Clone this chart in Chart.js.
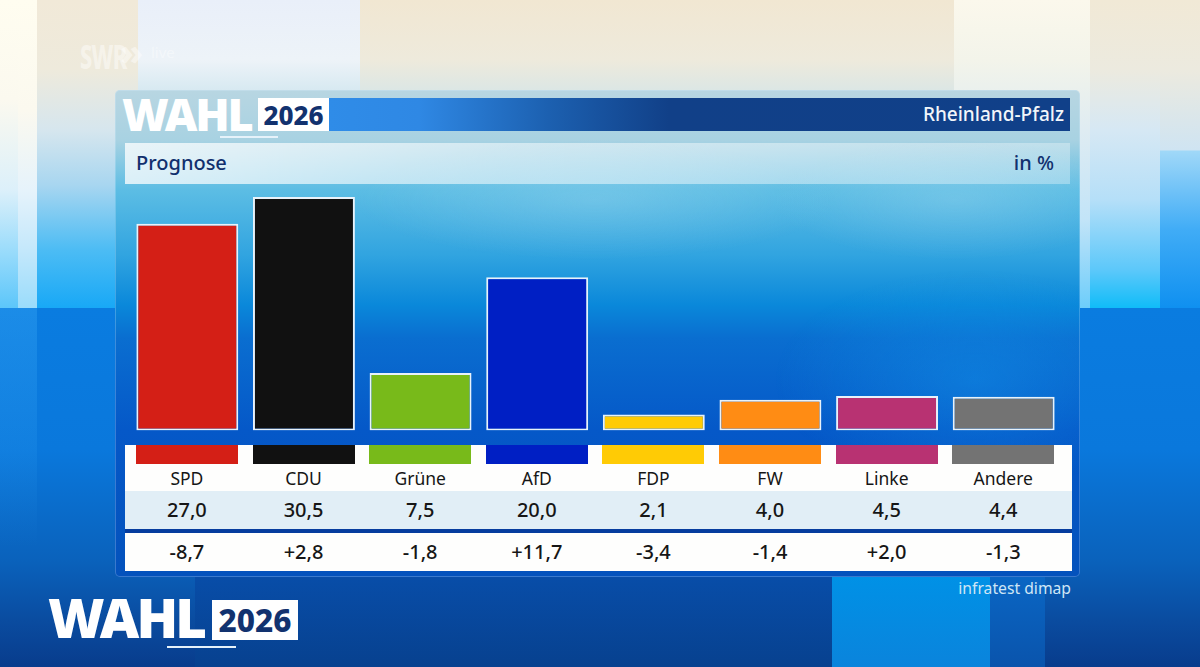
<!DOCTYPE html>
<html lang="de">
<head>
<meta charset="UTF-8">
<title>Wahl 2026 Rheinland-Pfalz Prognose</title>
<script src="https://cdn.jsdelivr.net/npm/chart.js@4/dist/chart.umd.min.js"></script>
<style>
  html, body { margin: 0; padding: 0; }
  body { width: 1200px; height: 667px; overflow: hidden; position: relative; font-family: "Noto Sans", sans-serif; background: #0a5cb8; }
  div, span { position: absolute; }
  canvas { position: absolute; }

  /* backdrop columns */
  .col { top: 0; height: 308px; }
  #c1 { left: 0; width: 18px; background: linear-gradient(#fffdf0 0, #fbf9ef 100px, #dcf0fa 190px, #9bdcfb 250px, #5cc6fa 308px); }
  #c2 { left: 18px; width: 19px; background: linear-gradient(#fffdf0 0, #fbf9ef 110px, #e6f3fb 190px, #c4e8fb 250px, #9adcfb 308px); }
  #c3 { left: 37px; width: 101px; background: linear-gradient(#f1e9d8 0, #eeeadc 70px, #d6e6ee 130px, #a8d6f0 185px, #4cbcf4 250px, #18a8f6 308px); }
  #c4 { left: 138px; width: 222px; background: linear-gradient(#e9eff9 0, #edf3f8 60px, #d0e6ef 100px); }
  #c5 { left: 360px; width: 594px; background: linear-gradient(#f1e7d2 0, #eeeadc 60px, #d9e6e6 95px); }
  #c6 { left: 954px; width: 136px; background: linear-gradient(#fbf8ec 0, #f3f4ea 60px, #dfecf2 130px, #c2e4f8 220px, #6ccdfb 308px); }
  #c7 { left: 1090px; width: 70px; background: linear-gradient(#f1e9d6 0, #eceadf 70px, #d6e8f4 130px, #b5dff8 200px, #5cc8fa 270px, #10bcf8 308px); }
  #c8 { left: 1160px; width: 40px; background: linear-gradient(#f1e9d6 0, #eceadf 70px, #cfe4f2 150px, #a0d8f8 151px, #40acf6 230px, #0f90f0 308px); }
  #low { left: 0; top: 308px; width: 1200px; height: 359px; background: linear-gradient(#0a7ce0 0, #0a78dc 142px, #0a62bc 252px, #0a4ca0 312px, #083c8c 359px); }
  #low1 { left: 0; top: 308px; width: 37px; height: 240px; background: linear-gradient(rgba(60,170,245,0.35), rgba(60,170,245,0)); }
  #b1 { left: 195px; top: 577px; width: 637px; height: 90px; background: linear-gradient(#084da8, #07418f); }
  #b2 { left: 832px; top: 577px; width: 158px; height: 90px; background: linear-gradient(#0091e6, #0a84dc); }
  #b3 { left: 990px; top: 577px; width: 55px; height: 90px; background: linear-gradient(#0a66c4, #0a54ac); }

  #swr { left: 80px; top: 35px; font-size: 33px; line-height: 44px; font-weight: 800; color: rgba(255,255,255,0.45); letter-spacing: -1px; white-space: nowrap; transform-origin: 0 0; transform: scaleX(0.66); }
  #chev { left: 120px; top: 30px; font-size: 36px; line-height: 44px; font-weight: 800; color: rgba(255,255,255,0.45); white-space: nowrap; }
  #live { left: 151px; top: 42px; font-size: 15px; line-height: 20px; color: rgba(255,255,255,0.4); }

  /* panel */
  #panel { left: 115px; top: 90px; width: 965px; height: 487px; border-radius: 5px; overflow: hidden;
    background: linear-gradient(#b8d6e2 0, #a8d2e2 50px, #5cbde4 100px, #31a4e0 165px, #0a88da 215px, #0a6ed0 248px, #0558c8 340px, #0452bc 487px); box-shadow: inset 0 0 0 1px rgba(220,240,255,0.25); }
  #panelR { left: 115px; top: 90px; width: 965px; height: 487px; border-radius: 5px;
    background: radial-gradient(ellipse 200px 110px at 860px 290px, rgba(20,150,235,0.45), rgba(20,150,235,0)), radial-gradient(ellipse 240px 60px at 480px 110px, rgba(170,220,240,0.3), rgba(170,220,240,0)), radial-gradient(ellipse 180px 60px at 840px 110px, rgba(170,220,240,0.3), rgba(170,220,240,0)); }
  #bar { left: 329px; top: 98px; width: 741px; height: 33px; background: linear-gradient(90deg, #2f8ce8 0, #2f88e4 90px, #1c60b0 220px, #114088 340px, #104089 741px); }
  #region { right: 136px; top: 100px; line-height: 28px; font-size: 19px; font-weight: 500; color: #f2f6fa; }
  #band { left: 125px; top: 143px; width: 945px; height: 41px; background: linear-gradient(90deg, rgba(255,255,255,0.76) 0, rgba(255,255,255,0.52) 40%, rgba(255,255,255,0.32) 100%); }
  #title { left: 136px; top: 149px; line-height: 28px; font-size: 20px; font-weight: 500; color: #11306e; }
  #unit { right: 146px; top: 149px; line-height: 28px; font-size: 20px; font-weight: 500; color: #11306e; }

  .wahl { color: #fff; font-weight: 900; font-family: "Noto Sans", sans-serif; white-space: nowrap; }
  .box { background: #fff; color: #12326f; font-weight: 800; text-align: center; }
  .line { background: #e6f2fa; }
  #w1 { left: 122px; top: 88px; font-size: 45px; line-height: 52px; letter-spacing: -2.2px; }
  #y1 { left: 258px; top: 98px; width: 71px; height: 33px; font-size: 26px; line-height: 34px; }
  #u1 { left: 220px; top: 136px; width: 58px; height: 2px; }
  #w2 { left: 48px; top: 586px; font-size: 54.5px; line-height: 62px; letter-spacing: -2.8px; }
  #y2 { left: 212px; top: 600px; width: 86px; height: 40px; font-size: 31.5px; line-height: 40px; }
  #u2 { left: 167px; top: 646px; width: 69px; height: 2px; }

  /* table under the bars */
  #rowLabels { left: 125px; top: 445px; width: 947px; height: 46px; background: #fefefd; }
  #rowShare { left: 125px; top: 491px; width: 947px; height: 38px; background: #e1eef6; }
  #rowGap { left: 125px; top: 529px; width: 947px; height: 4px; background: #063c9e; }
  #rowDiff { left: 125px; top: 533px; width: 947px; height: 38px; background: #fefefd; }
  .strip { top: 445px; height: 19px; width: 102px; }
  .cell { width: 116px; text-align: center; color: #161616; white-space: nowrap; }
  .lab { top: 465px; line-height: 26px; font-size: 17.5px; }
  .num { font-size: 20px; line-height: 38px; font-weight: 500; }
  #source { right: 129px; top: 577px; line-height: 22px; font-size: 15.7px; color: #cfe6f6; }
</style>
</head>
<body>
  <div id="c1" class="col"></div><div id="c2" class="col"></div><div id="c3" class="col"></div>
  <div id="c4" class="col"></div><div id="c5" class="col"></div><div id="c6" class="col"></div>
  <div id="c7" class="col"></div><div id="c8" class="col"></div>
  <div id="low"></div><div id="low1"></div>
  <div id="b1"></div><div id="b2"></div><div id="b3"></div>

  <span id="swr">SWR</span><span id="chev">»</span><span id="live">live</span>

  <div id="panel"></div><div id="panelR"></div>
  <div id="bar"></div>
  <span id="w1" class="wahl">WAHL</span><div id="y1" class="box">2026</div><div id="u1" class="line"></div>
  <span id="region">Rheinland-Pfalz</span>
  <div id="band"></div>
  <span id="title">Prognose</span><span id="unit">in %</span>

  <canvas id="bars" style="left:128.6px;top:190px;width:933.6px;height:242px"></canvas>

  <div id="rowLabels"></div><div id="rowShare"></div><div id="rowGap"></div><div id="rowDiff"></div>
  <div id="table"></div>

  <span id="source">infratest dimap</span>
  <span id="w2" class="wahl">WAHL</span><div id="y2" class="box">2026</div><div id="u2" class="line"></div>

<script>
  const parties = ['SPD', 'CDU', 'Grüne', 'AfD', 'FDP', 'FW', 'Linke', 'Andere']
  const shares = [27.0, 30.5, 7.5, 20.0, 2.1, 4.0, 4.5, 4.4]
  const diffs = ['-8,7', '+2,8', '-1,8', '+11,7', '-3,4', '-1,4', '+2,0', '-1,3']
  const colors = ['#d41f16', '#111111', '#78ba1a', '#001fc4', '#ffcb05', '#ff8c14', '#b83272', '#737373']

  // bars, axes hidden, table below does the labelling
  const ctx = document.getElementById('bars').getContext('2d')
  const chart = new Chart(ctx, {
    type: 'bar',
    data: {
      labels: parties,
      datasets: [{
        data: shares,
        backgroundColor: colors,
        borderColor: '#e8f2fa',
        borderWidth: 2,
        borderSkipped: false,
        barPercentage: 0.874,
        categoryPercentage: 1
      }]
    },
    options: {
      responsive: false,
      animation: false,
      layout: { padding: { bottom: 1.5 } },
      plugins: { legend: { display: false }, tooltip: { enabled: false } },
      scales: {
        x: { display: false },
        y: { display: false, min: 0, max: 31.4 }
      }
    }
  })

  // strips and rows line up with the chart's own x scale
  const table = document.getElementById('table')
  const add = (cls, left, top, text) => {
    const el = document.createElement('div')
    el.className = cls
    el.style.left = left + 'px'
    if (top !== null) el.style.top = top + 'px'
    el.textContent = text
    table.appendChild(el)
    return el
  }
  parties.forEach((p, i) => {
    const cx = 128.6 + chart.scales.x.getPixelForValue(i)
    add('strip', cx - 51, null, '').style.background = colors[i]
    add('cell lab', cx - 58, null, p)
    add('cell num', cx - 58, 491, shares[i].toFixed(1).replace('.', ','))
    add('cell num', cx - 58, 533, diffs[i])
  })
</script>
</body>
</html>
